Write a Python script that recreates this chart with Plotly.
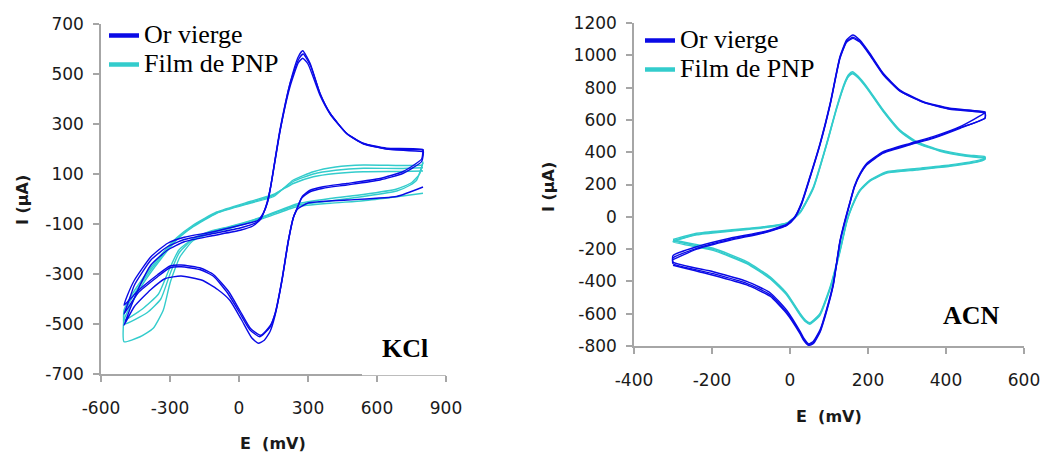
import plotly.graph_objects as go

# ---------------- DATA ----------------
series_names = ["Or vierge", "Film de PNP"]
series_colors = ["#0A0AE6", "#33CCCC"]

# Panel 1: KCl  (E in mV, I in µA)
kcl_or_c1_E = [800, 685, 470, 300, 255, 236, 214, 186, 157, 135, 110, 84, 55, 9, -40, -93, -160, -252, -320, -383,
               -455, -500, -480, -440, -383, -310, -238, -122, 9, 60, 95, 120, 140, 178, 222, 258, 277, 300, 352, 396,
               468, 540, 642, 800]
kcl_or_c1_I = [48, 10, -4, -16, -40, -75, -170, -330, -465, -530, -565, -577, -555, -480, -405, -362, -325, -308, -318, -362,
               -430, -505, -455, -364, -264, -204, -171, -148, -124, -108, -80, -20, 60, 270, 450, 545, 563, 540, 415, 340,
               262, 222, 200, 190]
kcl_or_c2_E = [800, 794, 714, 613, 468, 366, 309, 272, 250, 236, 214, 186, 157, 135, 91, 48, 4, -49, -110, -165,
               -252, -300, -354, -440, -500, -480, -455, -383, -310, -238, -122, 9, 81, 106, 125, 135, 178, 222, 258, 277,
               309, 352, 396, 468, 540, 642, 800]
kcl_or_c2_I = [196, 150, 103, 76, 56, 43, 29, 3, -44, -75, -168, -326, -458, -512, -551, -524, -457, -377, -310, -284,
               -271, -275, -311, -377, -460, -410, -345, -244, -190, -162, -140, -115, -91, -57, -10, 36, 276, 463, 569, 593,
               543, 423, 343, 263, 223, 203, 196]
kcl_or_c3_E = [800, 794, 714, 613, 468, 366, 309, 275, 252, 238, 216, 188, 159, 137, 95, 50, 6, -45, -110, -165,
               -252, -300, -354, -440, -500, -485, -455, -383, -310, -238, -122, 9, 81, 108, 126, 136, 180, 224, 260, 279,
               311, 354, 398, 470, 542, 644, 800]
kcl_or_c3_I = [200, 160, 110, 82, 62, 49, 35, 10, -38, -70, -162, -320, -452, -505, -545, -518, -450, -370, -303, -277,
               -264, -268, -303, -368, -425, -385, -325, -231, -177, -153, -133, -104, -86, -52, -5, 40, 280, 468, 560, 580,
               533, 418, 340, 260, 220, 200, 198]

kcl_pnp_c1_E = [800, 686, 540, 396, 251, 106, -39, -97, -199, -257, -300, -329, -373, -430, -500,
                -500, -474, -416, -343, -271, -199, -97, 48, 149, 236, 323, 420, 541, 700, 800]
kcl_pnp_c1_I = [23, 9, -7, -17, -31, -77, -117, -130, -166, -232, -337, -444, -517, -551, -571,
                -484, -431, -337, -244, -164, -111, -57, -17, 9, 76, 109, 128, 136, 134, 135]
kcl_pnp_c2_E = [800, 772, 743, 686, 540, 396, 251, 106, -39, -120, -199, -260, -300, -340, -400, -500,
                -500, -474, -416, -343, -271, -199, -97, 48, 149, 236, 323, 420, 541, 700, 800]
kcl_pnp_c2_I = [145, 75, 55, 32, 10, -8, -25, -72, -112, -130, -160, -215, -300, -400, -455, -500,
                -460, -410, -325, -236, -160, -108, -55, -14, 14, 70, 100, 115, 123, 122, 125]
kcl_pnp_c3_E = [800, 785, 750, 686, 540, 396, 251, 106, -39, -120, -199, -262, -305, -350, -420, -500,
                -500, -474, -416, -343, -271, -199, -97, 48, 149, 236, 323, 420, 541, 700, 800]
kcl_pnp_c3_I = [150, 100, 65, 40, 18, 2, -20, -70, -110, -128, -158, -205, -285, -380, -440, -484,
                -445, -395, -315, -228, -155, -104, -52, -10, 18, 62, 89, 102, 109, 110, 112]

# Panel 2: ACN
acn_or_c1_E = [-300, -239, -154, -68, -8, 12, 30, 51, 77, 103, 128, 145, 161, 179, 205, 239, 282, 342, 410, 500,
               500, 436, 367, 308, 239, 197, 180, 165, 154, 141, 128, 111, 94, 77, 60, 48, 35, 26, -8, -51, -111, -197, -300, -300]
acn_or_c1_I = [-240, -185, -133, -92, -45, 0, 90, 248, 455, 703, 991, 1095, 1126, 1095, 1012, 889, 785, 713, 672, 650,
               645, 558, 496, 455, 403, 331, 270, 190, 95, -20, -150, -412, -570, -700, -770, -787, -750, -710, -580, -470, -400, -340, -280, -240]
acn_or_c2_E = [-300, -239, -154, -68, -8, 12, 30, 51, 77, 103, 128, 145, 161, 179, 205, 239, 282, 342, 410, 500,
               500, 436, 367, 308, 239, 197, 180, 165, 154, 141, 128, 111, 94, 77, 60, 48, 35, 26, -8, -51, -111, -197, -300, -300]
acn_or_c2_I = [-255, -195, -140, -97, -50, -5, 85, 243, 450, 698, 985, 1085, 1112, 1088, 1005, 884, 780, 710, 668, 645,
               610, 552, 490, 450, 398, 326, 265, 185, 90, -25, -155, -418, -578, -708, -778, -792, -758, -718, -592, -482, -412, -352, -290, -255]
acn_or_c3_E = [-300, -239, -154, -68, -8, 12, 30, 51, 77, 103, 128, 145, 161, 179, 205, 239, 282, 342, 410, 500,
               500, 436, 367, 308, 239, 197, 180, 165, 154, 141, 128, 111, 94, 77, 60, 48, 35, 26, -8, -51, -111, -197, -300]
acn_or_c3_I = [-265, -200, -145, -100, -53, -8, 80, 238, 445, 693, 980, 1080, 1105, 1082, 1000, 880, 778, 708, 665, 640,
               612, 548, 486, 446, 394, 322, 262, 182, 86, -30, -160, -425, -585, -715, -785, -797, -765, -725, -600, -492, -422, -362, -300]

acn_pnp_c1_E = [-300, -239, -154, -68, -8, 26, 60, 94, 120, 141, 150, 160, 175, 197, 239, 282, 325, 385, 453, 500,
                500, 487, 410, 325, 248, 205, 179, 158, 146, 128, 103, 77, 60, 51, 40, 26, -8, -51, -111, -197, -300]
acn_pnp_c1_I = [-140, -102, -82, -61, -37, 32, 186, 455, 682, 837, 880, 898, 870, 806, 661, 537, 465, 414, 383, 372,
                365, 352, 321, 300, 279, 228, 166, 63, -20, -206, -433, -598, -640, -656, -640, -598, -474, -371, -278, -195, -144]
acn_pnp_c2_E = [-300, -239, -154, -68, -8, 26, 60, 94, 120, 141, 150, 160, 175, 197, 239, 282, 325, 385, 453, 500,
                500, 487, 410, 325, 248, 205, 179, 158, 146, 128, 103, 77, 60, 51, 40, 26, -8, -51, -111, -197, -300]
acn_pnp_c2_I = [-148, -108, -86, -64, -40, 28, 180, 450, 676, 830, 872, 890, 864, 800, 656, 532, 460, 410, 378, 366,
                360, 346, 316, 295, 274, 224, 162, 58, -25, -212, -440, -604, -646, -660, -646, -604, -480, -378, -285, -202, -150]
acn_pnp_c3_E = [-300, -239, -154, -68, -8, 26, 60, 94, 120, 141, 150, 160, 175, 197, 239, 282, 325, 385, 453, 500,
                500, 487, 410, 325, 248, 205, 179, 158, 146, 128, 103, 77, 60, 51, 40, 26, -8, -51, -111, -197, -300]
acn_pnp_c3_I = [-155, -112, -90, -68, -43, 24, 176, 446, 672, 826, 868, 886, 860, 796, 652, 528, 456, 406, 375, 362,
                356, 343, 312, 290, 270, 220, 158, 54, -30, -218, -446, -610, -650, -665, -650, -610, -486, -384, -290, -208, -155]

kcl_x_ticks = [-600, -300, 0, 300, 600, 900]
kcl_x_labels = ["-600", "-300", "0", "300", "600", "900"]
kcl_y_ticks = [-700, -500, -300, -100, 100, 300, 500, 700]
kcl_y_labels = ["-700", "-500", "-300", "-100", "100", "300", "500", "700"]
acn_x_ticks = [-400, -200, 0, 200, 400, 600]
acn_x_labels = ["-400", "-200", "0", "200", "400", "600"]
acn_y_ticks = [-800, -600, -400, -200, 0, 200, 400, 600, 800, 1000, 1200]
acn_y_labels = ["-800", "-600", "-400", "-200", "0", "200", "400", "600", "800", "1000", "1200"]

x_title = "E  (mV)"
y_title = "I (µA)"
panel_labels = ["KCl", "ACN"]

# ---------------- FIGURE ----------------
W, H = 1045, 453
fig = go.Figure()

panels = [
    dict(xa="x", ya="y", legend="legend",
         curves=[[(kcl_or_c1_E, kcl_or_c1_I), (kcl_or_c2_E, kcl_or_c2_I), (kcl_or_c3_E, kcl_or_c3_I)],
                 [(kcl_pnp_c1_E, kcl_pnp_c1_I), (kcl_pnp_c2_E, kcl_pnp_c2_I), (kcl_pnp_c3_E, kcl_pnp_c3_I)]]),
    dict(xa="x2", ya="y2", legend="legend2",
         curves=[[(acn_or_c1_E, acn_or_c1_I), (acn_or_c2_E, acn_or_c2_I), (acn_or_c3_E, acn_or_c3_I)],
                 [(acn_pnp_c1_E, acn_pnp_c1_I), (acn_pnp_c2_E, acn_pnp_c2_I), (acn_pnp_c3_E, acn_pnp_c3_I)]]),
]

for p in panels:
    for si in [1, 0]:
        for (E, I) in p["curves"][si]:
            fig.add_trace(go.Scatter(x=E, y=I, mode="lines", xaxis=p["xa"], yaxis=p["ya"],
                                     line=dict(color=series_colors[si], width=1.4, shape="spline", smoothing=0.5),
                                     showlegend=False, hoverinfo="skip"))
    for si in [0, 1]:
        fig.add_trace(go.Scatter(x=[None], y=[None], mode="lines", xaxis=p["xa"], yaxis=p["ya"],
                                 name='<span style="font-size:26px">' + series_names[si] + '</span>',
                                 legend=p["legend"],
                                 line=dict(color=series_colors[si], width=4.5)))

axis_color = "#A6A6A6"
tick_font = dict(family="DejaVu Sans", size=17, color="#1a1a1a")

def px_x(px):
    return px / W

def px_y(py):
    return 1 - py / H

common = dict(showline=True, linecolor=axis_color, linewidth=1.5, ticks="outside", ticklen=6,
              tickcolor=axis_color, tickwidth=1.5, showgrid=False, zeroline=False, tickfont=tick_font,
              mirror=False, automargin=False)

legend_common = dict(xanchor="left", yanchor="top",
                     font=dict(family="Liberation Serif", size=20, color="black"),
                     bgcolor="rgba(0,0,0,0)", itemwidth=30, tracegroupgap=0, borderwidth=0)

fig.update_layout(
    template="none",
    width=W, height=H, margin=dict(l=0, r=0, t=0, b=0, pad=0), autosize=False,
    paper_bgcolor="white", plot_bgcolor="white",
    xaxis=dict(domain=[px_x(101), px_x(446)], range=[-600, 900], anchor="y",
               tickvals=kcl_x_ticks, ticktext=kcl_x_labels, ticklabelstandoff=12, **common),
    yaxis=dict(domain=[px_y(374), px_y(24)], range=[-700, 700], anchor="x",
               tickvals=kcl_y_ticks, ticktext=kcl_y_labels, ticklabelstandoff=6, **common),
    xaxis2=dict(domain=[px_x(634), px_x(1024)], range=[-400, 600], anchor="y2",
                tickvals=acn_x_ticks, ticktext=acn_x_labels, ticklabelstandoff=12, **common),
    yaxis2=dict(domain=[px_y(346), px_y(23)], range=[-800, 1200], anchor="x2",
                tickvals=acn_y_ticks, ticktext=acn_y_labels, ticklabelstandoff=6, **common),
    legend=dict(x=px_x(104), y=px_y(16), **legend_common),
    legend2=dict(x=px_x(640), y=px_y(21), **legend_common),
    showlegend=True,
)

# white box behind "KCl" label that hides the end of the x axis line (as in the reference)
fig.add_shape(type="rect", xref="paper", yref="paper",
              x0=px_x(362), x1=px_x(452), y0=px_y(375.2), y1=px_y(328),
              fillcolor="white", line=dict(width=0), layer="above")

title_font = dict(family="DejaVu Sans", size=16, color="#1a1a1a", weight="bold")
fig.add_annotation(text=x_title, xref="paper", yref="paper", x=px_x(273), y=px_y(443),
                   showarrow=False, font=title_font, xanchor="center", yanchor="middle")
fig.add_annotation(text=x_title, xref="paper", yref="paper", x=px_x(829), y=px_y(416),
                   showarrow=False, font=title_font, xanchor="center", yanchor="middle")
fig.add_annotation(text=y_title, xref="paper", yref="paper", x=px_x(22), y=px_y(200),
                   showarrow=False, font=title_font, textangle=-90, xanchor="center", yanchor="middle")
fig.add_annotation(text=y_title, xref="paper", yref="paper", x=px_x(548), y=px_y(187),
                   showarrow=False, font=title_font, textangle=-90, xanchor="center", yanchor="middle")

label_font = dict(family="Liberation Serif", size=26, color="black", weight="bold")
fig.add_annotation(text=panel_labels[0], xref="paper", yref="paper", x=px_x(405), y=px_y(348),
                   showarrow=False, font=label_font, xanchor="center", yanchor="middle")
fig.add_annotation(text=panel_labels[1], xref="paper", yref="paper", x=px_x(971), y=px_y(315),
                   showarrow=False, font=label_font, xanchor="center", yanchor="middle")

fig.write_html("out.html", config={"displayModeBar": False},
               post_script="document.body.style.margin='0px';document.body.style.overflow='hidden';")
